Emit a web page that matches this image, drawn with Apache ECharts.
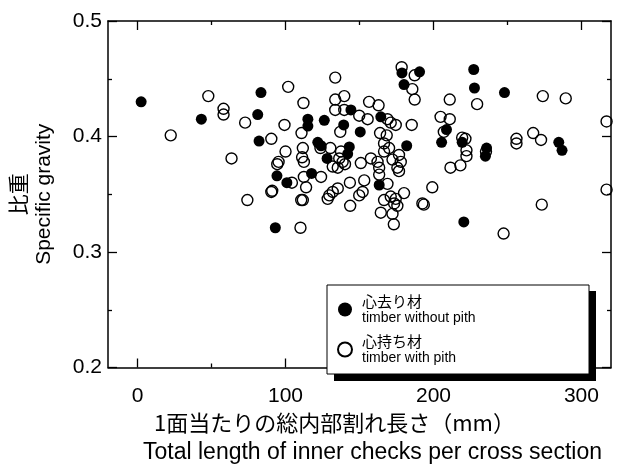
<!DOCTYPE html>
<html>
<head>
<meta charset="utf-8">
<script src="https://cdn.jsdelivr.net/npm/echarts@6/dist/echarts.min.js"></script>
<style>
  html, body { margin: 0; padding: 0; background: #fff; }
  #chart { width: 617px; height: 469px; }
</style>
</head>
<body>
<div id="chart"></div>
<script>
// 心去り材 (timber without pith): [inner check length mm, specific gravity]
const withoutPith = [
  [2.4, 0.430], [43.1, 0.415], [83.4, 0.438], [81.2, 0.419], [82.1, 0.396],
  [94.2, 0.366], [100.9, 0.360], [93.1, 0.321], [115.1, 0.415], [115.1, 0.409],
  [126.2, 0.414], [139.3, 0.410], [144.2, 0.423], [150.5, 0.404], [121.8, 0.395],
  [124.0, 0.392], [128.1, 0.381], [117.6, 0.368], [143.1, 0.391], [142.0, 0.385],
  [164.4, 0.417], [181.9, 0.392], [163.3, 0.358], [178.7, 0.455], [190.6, 0.456],
  [180.1, 0.445], [227.2, 0.458], [227.7, 0.442], [248.0, 0.438], [208.8, 0.406],
  [205.5, 0.395], [219.4, 0.395], [235.9, 0.390], [235.1, 0.383], [220.5, 0.326],
  [284.7, 0.395], [286.9, 0.388]
]

// 心持ち材 (timber with pith)
const withPith = [
  [22.4, 0.401], [47.8, 0.435], [58.1, 0.424], [58.1, 0.419], [72.7, 0.412],
  [63.5, 0.381], [90.4, 0.398], [101.8, 0.443], [112.1, 0.429], [99.3, 0.410],
  [110.8, 0.403], [100.0, 0.387], [111.7, 0.390], [95.3, 0.378], [94.4, 0.376],
  [111.2, 0.382], [112.4, 0.378], [104.3, 0.360], [112.4, 0.365], [91.0, 0.353],
  [90.4, 0.352], [74.2, 0.345], [110.6, 0.345], [110.1, 0.321], [133.6, 0.451],
  [133.6, 0.432], [139.7, 0.435], [133.6, 0.423], [139.7, 0.423], [137.0, 0.404],
  [149.8, 0.418], [155.5, 0.415], [156.5, 0.430], [162.9, 0.427], [168.9, 0.415],
  [174.5, 0.410], [163.9, 0.403], [168.4, 0.401], [166.6, 0.394], [185.3, 0.410],
  [178.5, 0.460], [187.3, 0.453], [185.7, 0.441], [187.3, 0.432], [123.6, 0.390],
  [130.3, 0.390], [137.5, 0.387], [138.6, 0.378], [140.2, 0.376], [135.3, 0.373],
  [131.9, 0.374], [136.3, 0.381], [124.0, 0.365], [113.9, 0.356], [111.7, 0.345],
  [143.5, 0.360], [153.2, 0.362], [135.3, 0.355], [131.9, 0.352], [129.6, 0.349],
  [128.5, 0.346], [152.1, 0.352], [149.8, 0.349], [143.7, 0.340], [168.9, 0.359],
  [166.6, 0.345], [164.4, 0.334], [174.5, 0.346], [173.4, 0.342], [175.6, 0.340],
  [172.3, 0.333], [180.1, 0.351], [173.2, 0.324], [192.5, 0.342], [193.5, 0.341],
  [199.2, 0.356], [150.9, 0.377], [157.7, 0.381], [163.3, 0.373], [162.2, 0.378],
  [166.6, 0.387], [170.0, 0.390], [172.3, 0.380], [175.6, 0.373], [177.9, 0.378],
  [171.1, 0.412], [211.0, 0.432], [229.5, 0.428], [204.8, 0.417], [211.0, 0.415],
  [207.0, 0.404], [219.4, 0.399], [221.6, 0.398], [222.3, 0.388], [222.3, 0.383],
  [211.5, 0.373], [218.2, 0.375], [235.5, 0.387], [256.1, 0.398], [256.1, 0.394],
  [267.4, 0.403], [272.7, 0.397], [273.9, 0.435], [289.4, 0.433], [317.0, 0.413],
  [317.0, 0.354], [247.4, 0.316], [273.2, 0.341], [171.1, 0.348], [176.7, 0.384],
  [176.7, 0.370], [163.3, 0.367]
]

const xMajorTicks = [0, 100, 200, 300]
const xMinorTicks = [50, 150, 250]
const legendEnglish = {
  '心去り材': 'timber without pith',
  '心持ち材': 'timber with pith'
}

const FONT = "'Liberation Sans', Arial, 'Noto Sans CJK JP', sans-serif"
const JFONT = "'Noto Sans CJK JP', 'Liberation Sans', sans-serif"
const X_MIN = -20
const X_MAX = 320

function xAxisCfg(position, ticks, len, showLine, showLabel) {
  return {
    type: 'value',
    position: position,
    min: X_MIN,
    max: X_MAX,
    axisLine: { show: showLine, onZero: false, lineStyle: { color: '#000', width: 1.5 } },
    axisTick: { inside: true, length: len, customValues: ticks, lineStyle: { color: '#000', width: 1.3 } },
    axisLabel: showLabel
      ? { customValues: ticks, color: '#000', fontSize: 21, fontFamily: FONT, margin: 18 }
      : { show: false },
    splitLine: { show: false }
  }
}

function yAxisCfg(position, showLabel) {
  return {
    type: 'value',
    position: position,
    min: 0.2,
    max: 0.5,
    interval: 0.1,
    axisLine: { show: true, onZero: false, lineStyle: { color: '#000', width: 1.5 } },
    axisTick: { inside: true, length: 9, lineStyle: { color: '#000', width: 1.3 } },
    minorTick: { show: true, splitNumber: 2, length: 4, lineStyle: { color: '#000', width: 1.3 } },
    axisLabel: showLabel
      ? { color: '#000', fontSize: 21, fontFamily: FONT, margin: 6, formatter: v => v.toFixed(1) }
      : { show: false },
    splitLine: { show: false },
    minorSplitLine: { show: false }
  }
}

const chart = echarts.init(document.getElementById('chart'))

const bottomX = xAxisCfg('bottom', xMajorTicks, 9, true, true)
bottomX.name = '{a|1面当たりの総内部割れ長さ（mm）}\n{b|Total length of inner checks per cross section}'
bottomX.nameLocation = 'middle'
bottomX.nameGap = 40
bottomX.nameTextStyle = {
  color: '#000',
  fontFamily: FONT,
  rich: {
    a: { fontSize: 22, lineHeight: 30, fontFamily: JFONT, color: '#000', padding: [0, 50, 0, 0] },
    b: { fontSize: 23, lineHeight: 30, fontFamily: FONT, color: '#000', padding: [0, 0, 0, 26] }
  }
}

const leftY = yAxisCfg('left', true)
leftY.name = '比重\nSpecific gravity'
leftY.nameLocation = 'middle'
leftY.nameRotate = 90
leftY.nameGap = 52
leftY.nameTextStyle = {
  color: '#000',
  fontSize: 21,
  lineHeight: 24,
  fontFamily: FONT
}

chart.setOption({
  animation: false,
  backgroundColor: '#fff',
  grid: { left: 106, right: 6, top: 21, bottom: 88 },
  xAxis: [
    bottomX,
    xAxisCfg('bottom', xMinorTicks, 4, false, false),
    xAxisCfg('top', xMajorTicks, 9, true, false),
    xAxisCfg('top', xMinorTicks, 4, false, false)
  ],
  yAxis: [
    leftY,
    yAxisCfg('right', false)
  ],
  legend: {
    orient: 'vertical',
    left: 332,
    top: 289,
    itemWidth: 14,
    itemHeight: 14,
    itemGap: 9,
    z: 10,
    formatter: name => '{a|' + name + '}\n{b|' + legendEnglish[name] + '}',
    textStyle: {
      padding: [0, 0, 0, 5],
      rich: {
        a: { fontSize: 15, lineHeight: 17, fontFamily: JFONT, color: '#000' },
        b: { fontSize: 14, lineHeight: 16, fontFamily: FONT, color: '#000' }
      }
    },
    data: ['心去り材', '心持ち材']
  },
  graphic: [
    {
      type: 'rect',
      z: 8,
      shape: { x: 334, y: 291, width: 262, height: 90 },
      style: { fill: '#000' }
    },
    {
      type: 'rect',
      z: 9,
      shape: { x: 327, y: 285, width: 262, height: 89 },
      style: { fill: '#fff', stroke: '#000', lineWidth: 1 }
    }
  ],
  series: [
    {
      name: '心持ち材',
      type: 'scatter',
      symbol: 'circle',
      symbolSize: 11,
      itemStyle: { color: 'rgba(255,255,255,0)', borderColor: '#000', borderWidth: 1.4, opacity: 1 },
      data: withPith
    },
    {
      name: '心去り材',
      type: 'scatter',
      symbol: 'circle',
      symbolSize: 11,
      itemStyle: { color: '#000', opacity: 1 },
      data: withoutPith
    }
  ]
})
</script>
</body>
</html>
